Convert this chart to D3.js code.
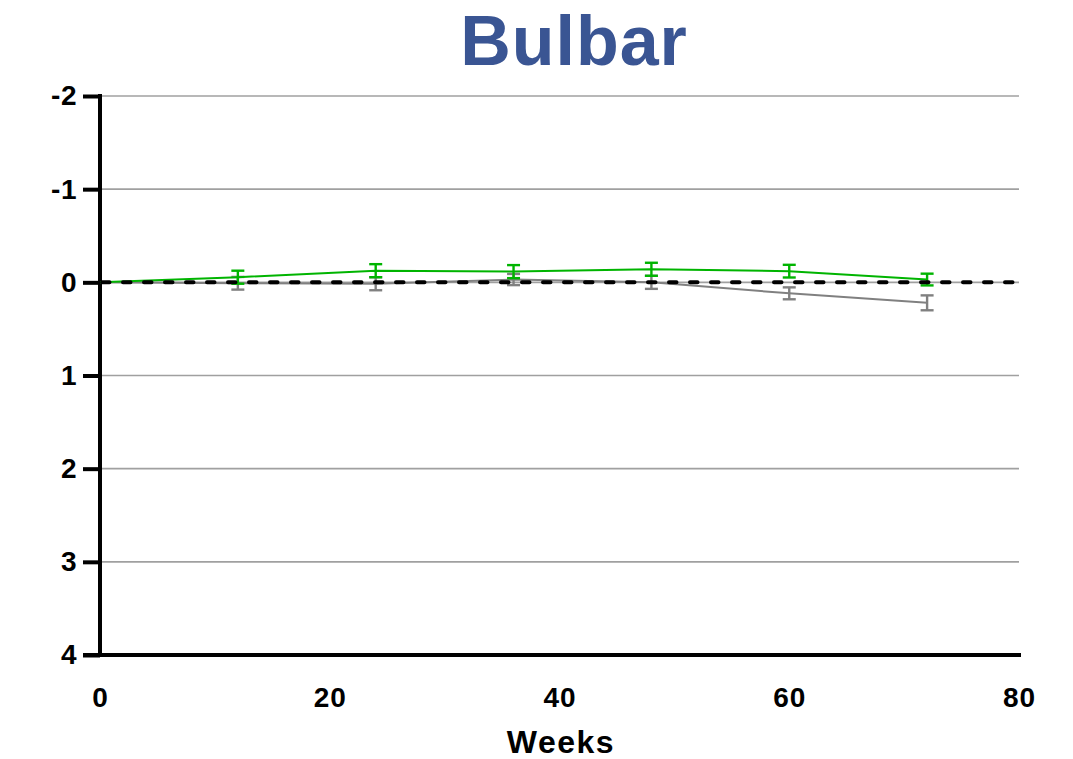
<!DOCTYPE html>
<html>
<head>
<meta charset="utf-8">
<script src="https://cdn.jsdelivr.net/npm/d3@7"></script>
<style>
html,body{margin:0;padding:0;background:#fff;}
svg{display:block;font-family:"Liberation Sans",Arial,sans-serif;}
</style>
</head>
<body>
<svg id="chart" width="1073" height="759"></svg>
<script>
const weeks = [0, 12, 24, 36, 48, 60, 72];
const greenMean = [0, -0.055, -0.125, -0.115, -0.14, -0.12, -0.03];
const greenErr  = [0, 0.07, 0.07, 0.07, 0.07, 0.068, 0.063];
const grayMean  = [0, 0.01, 0.015, -0.03, 0.0, 0.118, 0.22];
const grayErr   = [0, 0.068, 0.07, 0.06, 0.07, 0.064, 0.08];
const xTicks = [0, 20, 40, 60, 80];
const yTicks = [-2, -1, 0, 1, 2, 3, 4];
const gridTicks = [-2, -1, 0, 1, 2, 3];

const svg = d3.select("#chart");
const x = d3.scaleLinear().domain([0, 80]).range([100, 1019]);
const y = d3.scaleLinear().domain([-2, 4]).range([96, 655]);
const fmt = d => String(d);

// title
svg.append("text").attr("x", 574).attr("y", 65).attr("text-anchor", "middle")
  .attr("font-size", 70).attr("font-weight", "bold").attr("fill", "#3a5593")
  .attr("letter-spacing", 1).text("Bulbar");

// gridlines
svg.append("g").selectAll("line").data(gridTicks).join("line")
  .attr("x1", x(0)).attr("x2", x(80))
  .attr("y1", d => y(d)).attr("y2", d => y(d))
  .attr("stroke", "#a0a0a0").attr("stroke-width", 1.6);

// y axis
const yAxis = d3.axisLeft(y).tickValues(yTicks).tickSize(17).tickPadding(6).tickFormat(fmt);
const gy = svg.append("g").attr("transform", `translate(${x(0)},0)`).call(yAxis);
gy.select(".domain").remove();
gy.append("line").attr("x1", 0).attr("x2", 0).attr("y1", y(-2) - 2).attr("y2", y(4) + 2)
  .attr("stroke", "#000").attr("stroke-width", 4);
gy.selectAll(".tick line").attr("stroke", "#000").attr("stroke-width", 4);
gy.selectAll(".tick text").attr("font-size", 28).attr("font-weight", "bold").attr("fill", "#000")
  .attr("letter-spacing", 0.5)
  .attr("font-family", "Liberation Sans, Arial, sans-serif");

// x axis
const xAxis = d3.axisBottom(x).tickValues(xTicks).tickSize(0).tickPadding(32).tickFormat(fmt);
const gx = svg.append("g").attr("transform", `translate(0,${y(4)})`).call(xAxis);
gx.select(".domain").remove();
gx.append("line").attr("x1", 83).attr("x2", 1021).attr("y1", 0).attr("y2", 0)
  .attr("stroke", "#000").attr("stroke-width", 4);
gx.selectAll(".tick text").attr("font-size", 28).attr("font-weight", "bold").attr("fill", "#000")
  .attr("letter-spacing", 1)
  .attr("font-family", "Liberation Sans, Arial, sans-serif");

svg.append("text").attr("x", 561).attr("y", 753).attr("text-anchor", "middle")
  .attr("font-size", 32).attr("font-weight", "bold").attr("fill", "#000")
  .attr("letter-spacing", 1.5).text("Weeks");

// series
function drawSeries(means, errs, color) {
  const pts = weeks.map((w, i) => ({w, m: means[i], e: errs[i]}));
  const line = d3.line().x(d => x(d.w)).y(d => y(d.m));
  const g = svg.append("g");
  g.append("path").datum(pts).attr("d", line).attr("fill", "none")
    .attr("stroke", color).attr("stroke-width", 2);
  const eb = g.selectAll("g.eb").data(pts.filter(d => d.e > 0)).join("g");
  eb.append("line").attr("x1", d => x(d.w)).attr("x2", d => x(d.w))
    .attr("y1", d => y(d.m - d.e)).attr("y2", d => y(d.m + d.e))
    .attr("stroke", color).attr("stroke-width", 2.4);
  [-1, 1].forEach(s => {
    eb.append("line").attr("x1", d => x(d.w) - 6.5).attr("x2", d => x(d.w) + 6.5)
      .attr("y1", d => y(d.m + s * d.e)).attr("y2", d => y(d.m + s * d.e))
      .attr("stroke", color).attr("stroke-width", 2.4);
  });
}
drawSeries(grayMean, grayErr, "#808080");
drawSeries(greenMean, greenErr, "#00b400");

// dashed zero reference
svg.append("line").attr("x1", x(0) + 2).attr("x2", x(80)).attr("y1", y(0)).attr("y2", y(0))
  .attr("stroke", "#000").attr("stroke-width", 4).attr("stroke-linecap", "round")
  .attr("stroke-dasharray", "7.5 13.5");
</script>
</body>
</html>
